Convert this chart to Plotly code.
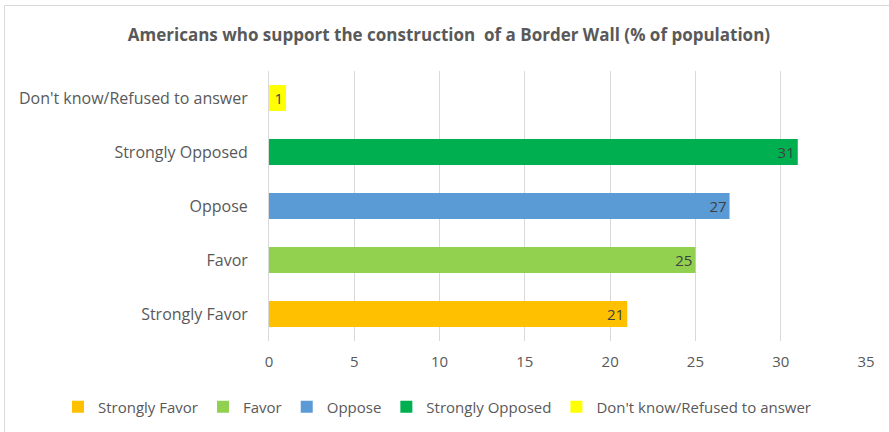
import plotly.graph_objects as go

categories = ["Strongly Favor", "Favor", "Oppose", "Strongly Opposed", "Don't know/Refused to answer"]
values = [21, 25, 27, 31, 1]
colors = ["#FFC000", "#92D050", "#5B9BD5", "#00B050", "#FFFF00"]
x_ticks = [0, 5, 10, 15, 20, 25, 30, 35]

FONT = "Open Sans"
GRAY = "#595959"

fig = go.Figure()
for cat, val, col in zip(categories, values, colors):
    fig.add_trace(go.Bar(
        y=[cat], x=[val], name=cat, orientation="h",
        marker=dict(color=col, line=dict(width=0)),
        width=0.48,
        text=[str(val)], textposition="inside", insidetextanchor="end",
        textangle=0, constraintext="none", cliponaxis=False,
        textfont=dict(family=FONT, size=15, color="#404040"),
    ))

W, H = 889, 432
ml, mr, mt, mb = 269, 23, 71, 91
pw, ph = W - ml - mr, H - mt - mb

fig.update_layout(
    width=W, height=H,
    margin=dict(l=ml, r=mr, t=mt, b=mb, autoexpand=False),
    paper_bgcolor="white", plot_bgcolor="white",
    barmode="overlay",
    title=dict(text="<b>Americans who support the construction  of a Border Wall (% of population)</b>",
               x=0.505, xref="container", xanchor="center", y=0.919, yref="container", yanchor="middle",
               font=dict(family=FONT, size=17, color=GRAY)),
    xaxis=dict(range=[0, 35], tickvals=x_ticks, showgrid=True, gridcolor="#D9D9D9", gridwidth=1,
               zeroline=False, showline=False, ticks="", ticklabelstandoff=10, automargin=False,
               tickfont=dict(family=FONT, size=15, color=GRAY)),
    yaxis=dict(categoryorder="array", categoryarray=categories, showline=True, linecolor="#D9D9D9",
               linewidth=1, ticks="", ticklabelstandoff=17, showgrid=False, automargin=False,
               tickfont=dict(family=FONT, size=16, color=GRAY)),
    legend=dict(orientation="h", xref="paper", x=(58 - ml) / pw, xanchor="left",
                yref="paper", y=(341 - 407) / ph, yanchor="middle",
                traceorder="normal", itemwidth=30,
                font=dict(family=FONT, size=15, color=GRAY)),
    shapes=[dict(type="rect", xref="paper", yref="paper",
                 x0=(4.5 - ml) / pw, x1=(W + 5 - ml) / pw,
                 y0=-(mb + 5) / ph, y1=(ph + mt - 5.5) / ph,
                 line=dict(color="#D9D9D9", width=1), fillcolor="rgba(0,0,0,0)", layer="below")],
)

fig.write_html("out.html")
